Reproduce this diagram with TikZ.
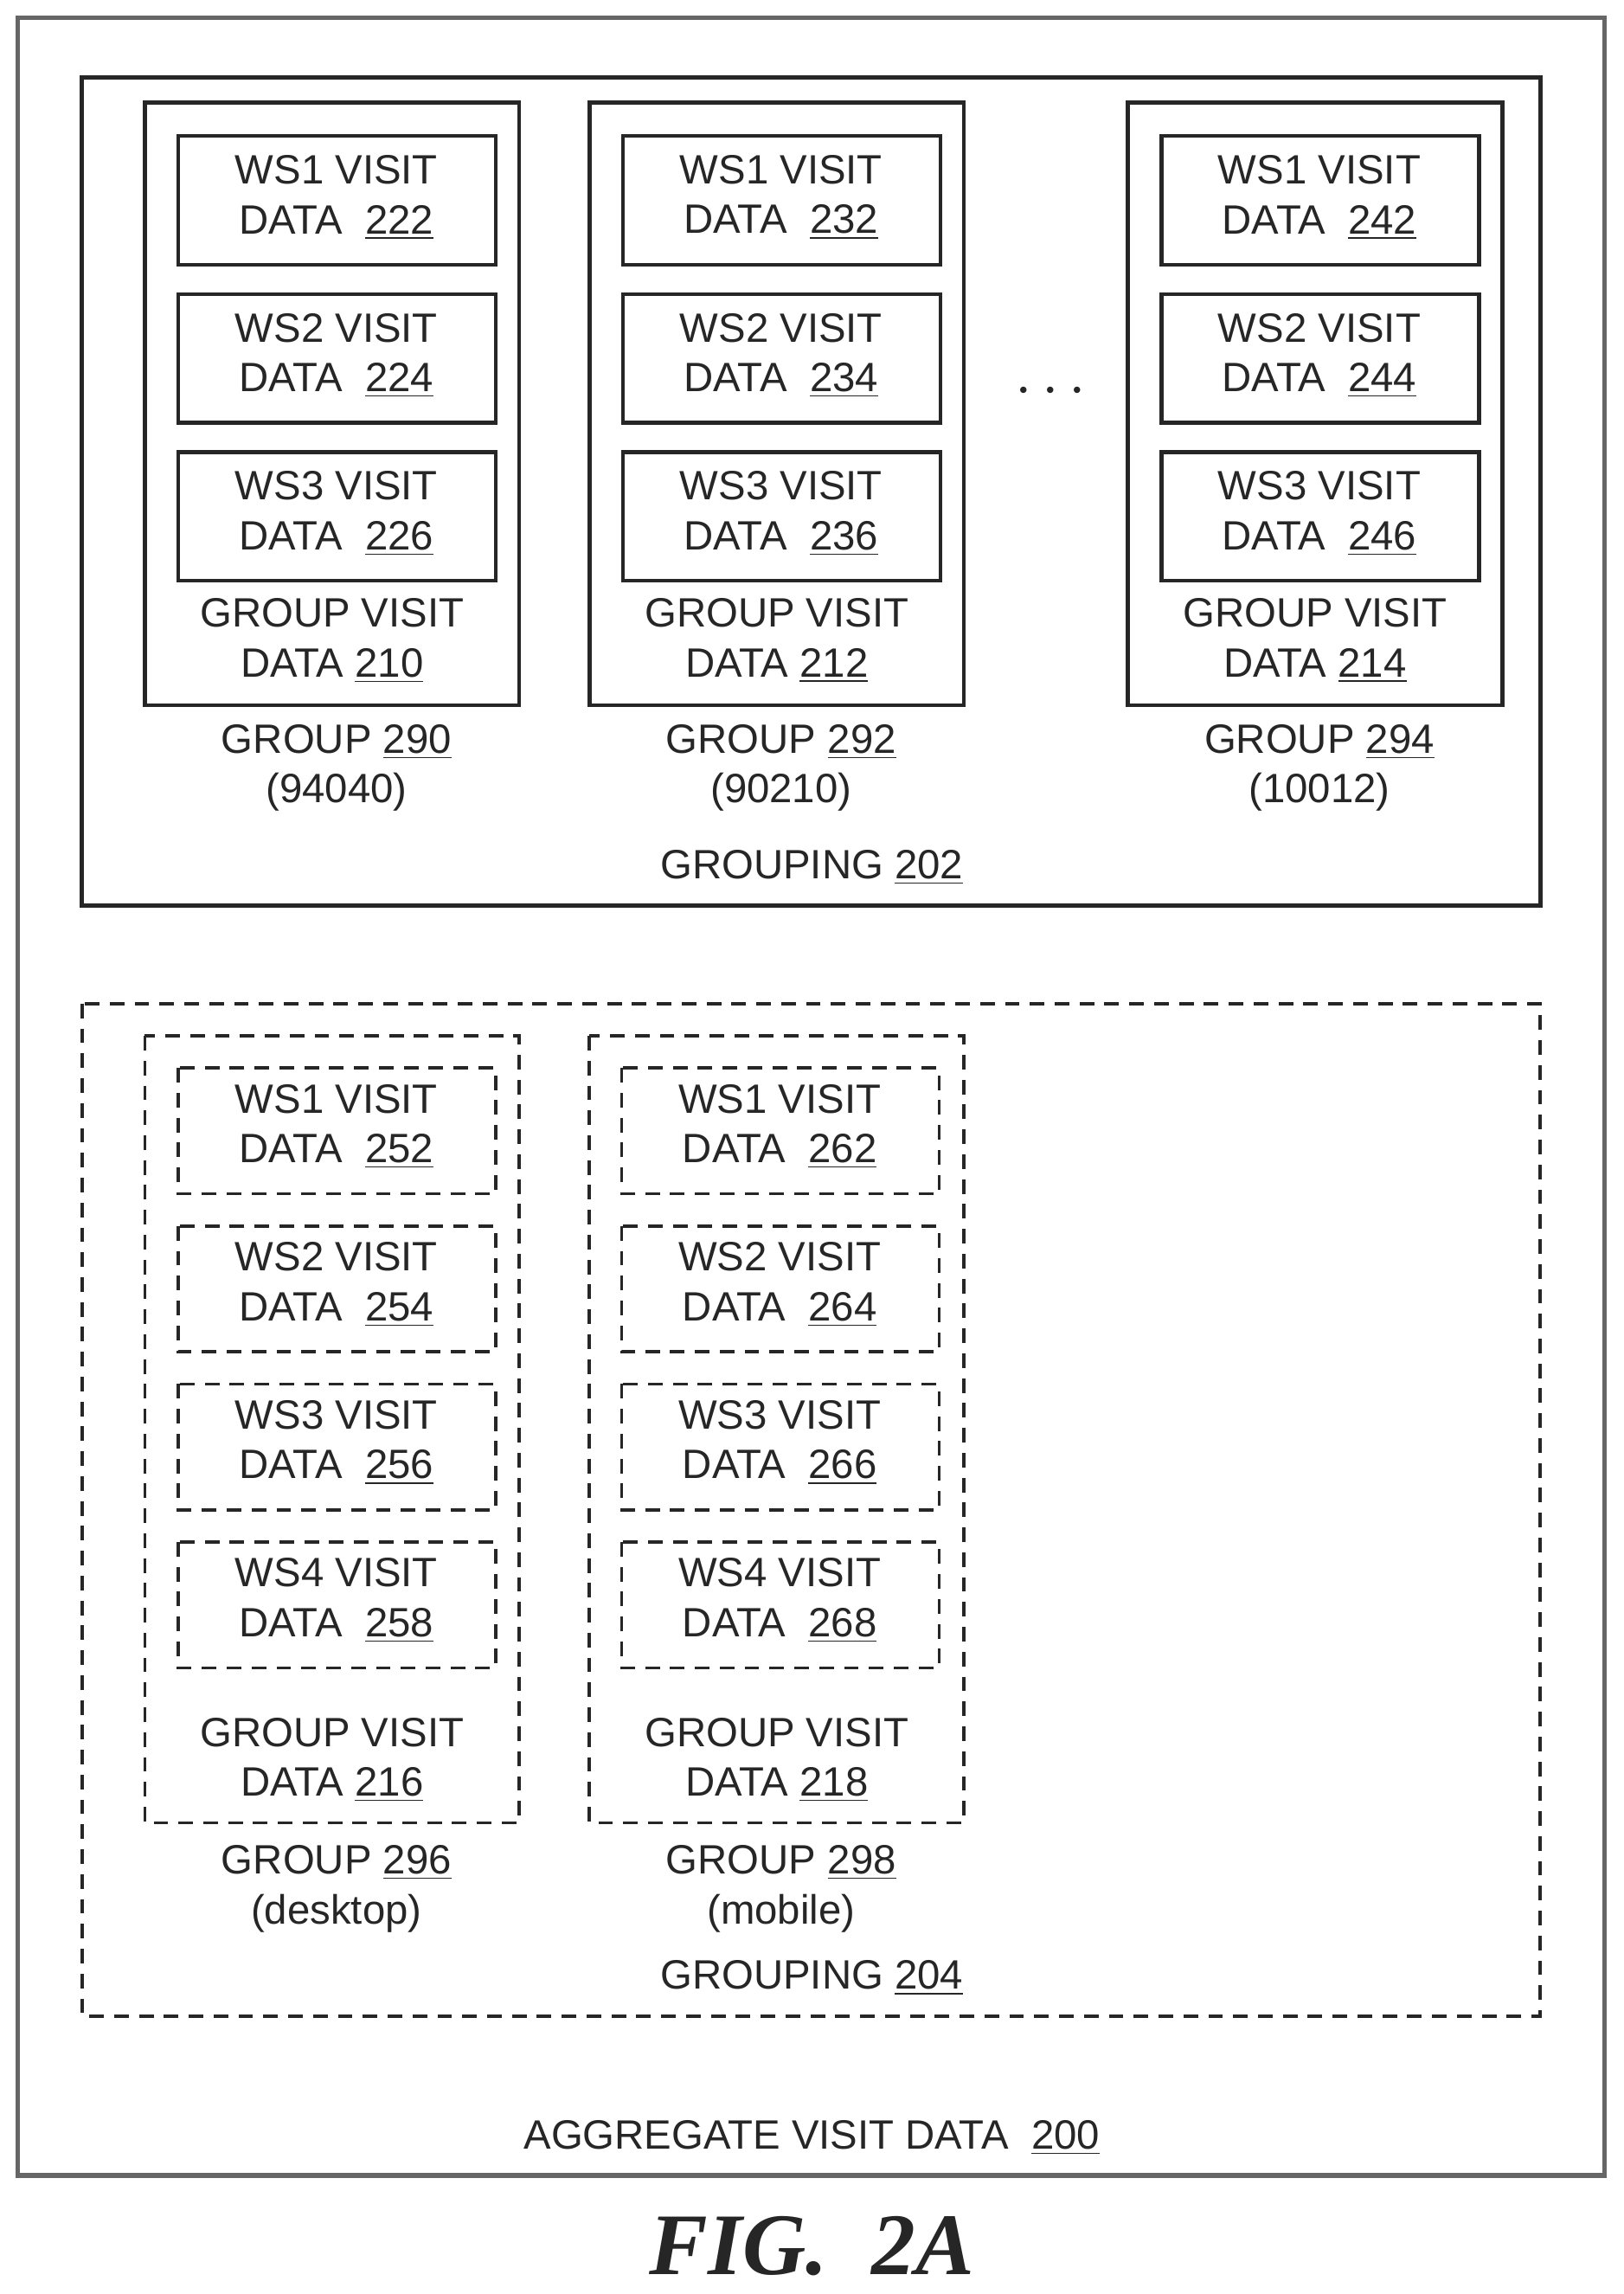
\documentclass[tikz,border=0pt]{standalone}
\usepackage{fontspec}
\setmainfont{Liberation Sans}
\newfontfamily\figfont{Liberation Serif}
\begin{document}
\begin{tikzpicture}[x=0.5pt,y=-0.5pt,
 box/.style={draw=black!85,line width=1.3pt},
 dbox/.style={draw=black!85,line width=1.1pt,dash pattern=on 5pt off 3.5pt},
 txt/.style={font=\fontsize{14pt}{17pt}\selectfont,text=black!85,align=center,inner sep=0pt}]
\useasboundingbox (0,0) rectangle (1110,1568);
\draw[draw=black!60,line width=1.6pt] (12,12) rectangle (1097,1487);
\draw[box] (56,53) rectangle (1053,619);
\node[txt] (g202) at (555,593) {GROUPING \underline{202}};
% top groups
\foreach \gx/\ix/\g/\gv/\zip/\a/\b/\c in {99/122/290/210/94040/222/224/226, 403/426/292/212/90210/232/234/236, 771/794/294/214/10012/242/244/246}{
 \draw[box] (\gx,70) rectangle (\gx+256,482);
 \foreach \y/\w/\n in {93/1/\a,201/2/\b,309/3/\c}{
  \draw[box] (\ix,\y) rectangle (\ix+217,\y+88);
  \node[txt] (t\n) at (\ix+108,\y+42) {WS\w\ VISIT\\DATA\ \ \underline{\n}};
 }
 \node[txt] (gv\gv) at (\gx+128,438) {GROUP VISIT\\DATA\ \underline{\gv}};
 \node[txt] (gr\g) at (\gx+131,525) {GROUP \underline{\g}\\(\zip)};
}
\node[txt,font=\fontsize{20pt}{20pt}\selectfont\bfseries] (dots) at (718,268) {$\cdots$};
% bottom grouping
\draw[dbox] (56,686) rectangle (1053,1378);
\node[txt] (g204) at (555,1352) {GROUPING \underline{204}};
\foreach \gx/\ix/\g/\gv/\lab/\a/\b/\c/\d in {99/122/296/216/desktop/252/254/256/258, 403/425/298/218/mobile/262/264/266/268}{
 \draw[dbox] (\gx,708) rectangle (\gx+256,1246);
 \foreach \y/\w/\n in {730/1/\a,838/2/\b,946/3/\c,1054/4/\d}{
  \draw[dbox] (\ix,\y) rectangle (\ix+217,\y+86);
  \node[txt] (t\n) at (\ix+108,\y+40) {WS\w\ VISIT\\DATA\ \ \underline{\n}};
 }
 \node[txt] (gv\gv) at (\gx+128,1203) {GROUP VISIT\\DATA\ \underline{\gv}};
 \node[txt] (gr\g) at (\gx+131,1291) {GROUP \underline{\g}\\(\lab)};
}
\node[txt] (agg) at (555,1461) {AGGREGATE VISIT DATA\ \ \underline{200}};
\node[txt,font=\figfont\fontsize{30pt}{30pt}\selectfont\bfseries\itshape] (fig) at (555,1535) {FIG.\ \ 2A};
\end{tikzpicture}
\end{document}
